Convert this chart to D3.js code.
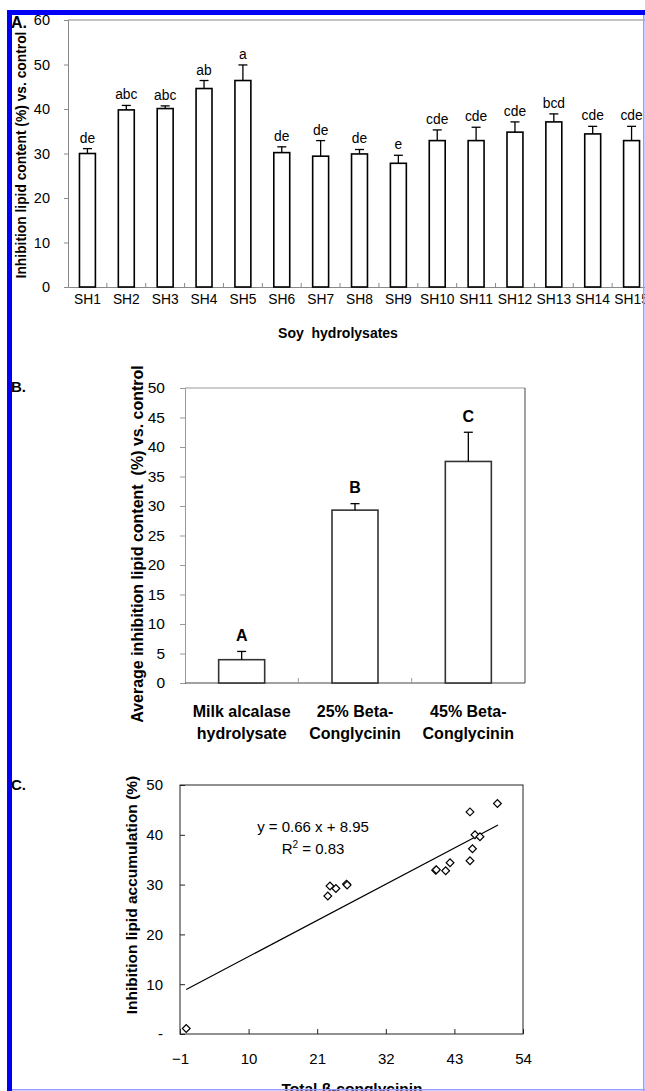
<!DOCTYPE html>
<html>
<head>
<meta charset="utf-8">
<script src="https://cdn.jsdelivr.net/npm/d3@7"></script>
<style>
  html, body { margin: 0; padding: 0; background: #fff; }
  svg { display: block; }
  text { font-family: Arial, 'Liberation Sans', Helvetica, sans-serif; fill: #000; }
</style>
</head>
<body>
<div id="fig"></div>
<script>
// ---- panel A: soy hydrolysates ----
const hydrolysates = ['SH1', 'SH2', 'SH3', 'SH4', 'SH5', 'SH6', 'SH7', 'SH8',
                      'SH9', 'SH10', 'SH11', 'SH12', 'SH13', 'SH14', 'SH15'];
const inhibitionA = [30.0, 39.8, 40.1, 44.6, 46.4, 30.2, 29.4, 29.9, 27.8, 32.9, 32.9, 34.8, 37.1, 34.4, 32.9];
const errorA = [1.1, 1.0, 0.6, 1.8, 3.5, 1.3, 3.5, 1.0, 1.8, 2.4, 3.0, 2.3, 1.8, 1.7, 3.2];
const lettersA = ['de', 'abc', 'abc', 'ab', 'a', 'de', 'de', 'de', 'e', 'cde', 'cde', 'cde', 'bcd', 'cde', 'cde'];
const yTicksA = [0, 10, 20, 30, 40, 50, 60];

// ---- panel B: averages ----
const samplesB = [['Milk alcalase', 'hydrolysate'], ['25% Beta-', 'Conglycinin'], ['45% Beta-', 'Conglycinin']];
const inhibitionB = [3.95, 29.3, 37.55];
const errorB = [1.4, 1.1, 4.95];
const lettersB = ['A', 'B', 'C'];
const yTicksB = [0, 5, 10, 15, 20, 25, 30, 35, 40, 45, 50];

// ---- panel C: correlation ----
const conglycinin = [0, 22.7, 23.05, 24.0, 25.7, 25.8, 40.0, 40.1, 41.6, 42.3, 45.5, 45.9, 46.3, 47.1, 45.5, 49.9];
const accumulation = [1.1, 27.7, 29.7, 29.2, 30.1, 29.9, 32.9, 33.0, 32.8, 34.4, 34.8, 37.2, 40.0, 39.6, 44.6, 46.3];
const fitSlope = 0.66;
const fitIntercept = 8.95;
const fitRange = [0, 50];
const xTicksC = [-1, 10, 21, 32, 43, 54];
const yTicksC = [0, 10, 20, 30, 40, 50];

window.Fig = window.Fig || {};

Fig.init = function() {
    Fig.width = 645;
    Fig.height = 1091;

    Fig.svg = d3.select('#fig').append('svg')
                .attr('width', Fig.width)
                .attr('height', Fig.height);

    Fig.panels.a();
    Fig.panels.b();
    Fig.panels.c();
    Fig.panels.frame();
};

Fig.helpers = {
    errorBars: function(g, x, y, cats, means, errs, cap) {
        cats.forEach(function(c, i) {
            let cx = x(c) + x.bandwidth() / 2;
            let y0 = y(means[i]), y1 = y(means[i] + errs[i]);
            g.append('line').attr('x1', cx).attr('x2', cx).attr('y1', y0).attr('y2', y1)
             .attr('stroke', '#000').attr('stroke-width', 1.3);
            g.append('line').attr('x1', cx - cap).attr('x2', cx + cap).attr('y1', y1).attr('y2', y1)
             .attr('stroke', '#000').attr('stroke-width', 1.3);
        });
    },

    bandTicks: function(g, x, cats, yBase, len, color) {
        // small inward ticks between the categories
        for (let i = 1; i < cats.length; i++) {
            let bx = x(cats[i]) + x.bandwidth() / 2 - x.step() / 2;
            g.append('line').attr('x1', bx).attr('x2', bx)
             .attr('y1', yBase).attr('y2', yBase - len)
             .attr('stroke', color).attr('stroke-width', 1);
        }
    },

    yTitle: function(g, text, cx, cy, size) {
        g.append('text')
         .attr('transform', 'translate(' + cx + ',' + cy + ') rotate(-90)')
         .attr('text-anchor', 'middle')
         .attr('font-weight', 'bold')
         .attr('font-size', size)
         .attr('xml:space', 'preserve')
         .text(text);
    },

    panelLabel: function(g, text, x, y, size) {
        g.append('text').attr('x', x).attr('y', y)
         .attr('font-weight', 'bold').attr('font-size', size).text(text);
    }
};

Fig.panels = {
    a: function() {
        const left = 68, right = 651, top = 20, bottom = 287;
        const g = Fig.svg.append('g');

        const x = d3.scaleBand().domain(hydrolysates).range([left, right])
                    .paddingInner(0.59).paddingOuter(0.295);
        const y = d3.scaleLinear().domain([0, 60]).range([bottom, top]);

        // frame top line
        g.append('line').attr('x1', left).attr('x2', right).attr('y1', top).attr('y2', top)
         .attr('stroke', '#888').attr('stroke-width', 1);

        const yAxis = g.append('g').attr('transform', 'translate(' + left + ',0)')
                       .call(d3.axisLeft(y).tickValues(yTicksA).tickSize(4).tickPadding(14));
        yAxis.selectAll('path, line').attr('stroke', '#888');
        yAxis.selectAll('text').attr('font-size', 14.5).style('font-family', null);

        const xAxis = g.append('g').attr('transform', 'translate(0,' + bottom + ')')
                       .call(d3.axisBottom(x).tickSize(0).tickPadding(7).tickSizeOuter(0));
        xAxis.select('path').attr('stroke', '#888');
        xAxis.selectAll('text').attr('font-size', 13.8).style('font-family', null);

        Fig.helpers.bandTicks(g, x, hydrolysates, bottom, 4, '#888');

        g.selectAll('rect.bar').data(hydrolysates).enter().append('rect')
         .attr('class', 'bar')
         .attr('x', d => x(d)).attr('width', x.bandwidth())
         .attr('y', (d, i) => y(inhibitionA[i]))
         .attr('height', (d, i) => bottom - y(inhibitionA[i]))
         .attr('fill', '#fff').attr('stroke', '#000').attr('stroke-width', 1.6);

        Fig.helpers.errorBars(g, x, y, hydrolysates, inhibitionA, errorA, 4.5);

        g.selectAll('text.letter').data(hydrolysates).enter().append('text')
         .attr('class', 'letter')
         .attr('x', d => x(d) + x.bandwidth() / 2)
         .attr('y', (d, i) => y(inhibitionA[i] + errorA[i]) - 6)
         .attr('text-anchor', 'middle').attr('font-size', 13.8)
         .text((d, i) => lettersA[i]);

        g.append('text').attr('x', 338).attr('y', 338).attr('text-anchor', 'middle')
         .attr('font-weight', 'bold').attr('font-size', 14).attr('xml:space', 'preserve')
         .text('Soy  hydrolysates');

        Fig.helpers.yTitle(g, 'Inhibition lipid content (%) vs. control', 26, 155, 13.8);
        Fig.helpers.panelLabel(g, 'A.', 11, 28, 16);
    },

    b: function() {
        const left = 185, right = 525, top = 388, bottom = 683;
        const g = Fig.svg.append('g');
        const cats = samplesB.map(d => d.join(' '));

        const x = d3.scaleBand().domain(cats).range([left, right])
                    .paddingInner(0.594).paddingOuter(0.297);
        const y = d3.scaleLinear().domain([0, 50]).range([bottom, top]);

        g.append('line').attr('x1', left).attr('x2', right).attr('y1', top).attr('y2', top)
         .attr('stroke', '#999');
        g.append('line').attr('x1', right).attr('x2', right).attr('y1', top).attr('y2', bottom)
         .attr('stroke', '#444');

        const yAxis = g.append('g').attr('transform', 'translate(' + left + ',0)')
                       .call(d3.axisLeft(y).tickValues(yTicksB).tickSize(5).tickPadding(15));
        yAxis.selectAll('path, line').attr('stroke', '#999');
        yAxis.selectAll('text').attr('font-size', 15.5).style('font-family', null);

        g.append('line').attr('x1', left).attr('x2', right).attr('y1', bottom).attr('y2', bottom)
         .attr('stroke', '#444');
        Fig.helpers.bandTicks(g, x, cats, bottom, 5, '#999');

        g.selectAll('rect.bar').data(cats).enter().append('rect')
         .attr('class', 'bar')
         .attr('x', d => x(d)).attr('width', x.bandwidth())
         .attr('y', (d, i) => y(inhibitionB[i]))
         .attr('height', (d, i) => bottom - y(inhibitionB[i]))
         .attr('fill', '#fff').attr('stroke', '#333').attr('stroke-width', 1.6);

        Fig.helpers.errorBars(g, x, y, cats, inhibitionB, errorB, 4.5);

        g.selectAll('text.letter').data(cats).enter().append('text')
         .attr('class', 'letter')
         .attr('x', d => x(d) + x.bandwidth() / 2)
         .attr('y', (d, i) => y(inhibitionB[i] + errorB[i]) - 10.5)
         .attr('text-anchor', 'middle').attr('font-size', 16).attr('font-weight', 'bold')
         .text((d, i) => lettersB[i]);

        cats.forEach(function(c, i) {
            let t = g.append('text').attr('text-anchor', 'middle')
                     .attr('font-weight', 'bold').attr('font-size', 16);
            samplesB[i].forEach(function(line, j) {
                t.append('tspan').attr('x', x(c) + x.bandwidth() / 2)
                 .attr('y', 716.5 + j * 22).text(line);
            });
        });

        Fig.helpers.yTitle(g, 'Average inhibition lipid content  (%) vs. control', 143, 544, 16);
        Fig.helpers.panelLabel(g, 'B.', 11, 392, 15);
    },

    c: function() {
        const left = 180, right = 523, top = 785, bottom = 1034;
        const g = Fig.svg.append('g');

        const x = d3.scaleLinear().domain([-1, 54]).range([left, right]);
        const y = d3.scaleLinear().domain([0, 50]).range([bottom, top]);

        g.append('rect').attr('x', left).attr('y', top)
         .attr('width', right - left).attr('height', bottom - top)
         .attr('fill', 'none').attr('stroke', '#222').attr('stroke-width', 1);

        const yAxis = g.append('g').attr('transform', 'translate(' + left + ',0)')
                       .call(d3.axisLeft(y).tickValues(yTicksC).tickSizeInner(-5).tickSizeOuter(0)
                               .tickPadding(17).tickFormat(d => d === 0 ? '-' : d));
        yAxis.select('path').remove();
        yAxis.selectAll('line').attr('stroke', '#222');
        yAxis.selectAll('text').attr('font-size', 15).style('font-family', null);

        const xAxis = g.append('g').attr('transform', 'translate(0,' + bottom + ')')
                       .call(d3.axisBottom(x).tickValues(xTicksC).tickSizeInner(-5).tickSizeOuter(0)
                               .tickPadding(19));
        xAxis.select('path').remove();
        xAxis.selectAll('line').attr('stroke', '#222');
        xAxis.selectAll('text').attr('font-size', 15).style('font-family', null);

        // regression line
        g.append('line')
         .attr('x1', x(fitRange[0])).attr('y1', y(fitSlope * fitRange[0] + fitIntercept))
         .attr('x2', x(fitRange[1])).attr('y2', y(fitSlope * fitRange[1] + fitIntercept))
         .attr('stroke', '#000').attr('stroke-width', 1.2);

        const diamond = d3.symbol().type(d3.symbolSquare).size(30);
        g.selectAll('path.pt').data(conglycinin).enter().append('path')
         .attr('class', 'pt')
         .attr('d', diamond)
         .attr('transform', (d, i) => 'translate(' + x(d) + ',' + y(accumulation[i]) + ') rotate(45)')
         .attr('fill', '#fff').attr('stroke', '#000').attr('stroke-width', 1.2);

        g.append('text').attr('x', 313).attr('y', 832).attr('text-anchor', 'middle')
         .attr('font-size', 15).text('y = 0.66 x + 8.95');
        let r2 = g.append('text').attr('x', 313).attr('y', 854).attr('text-anchor', 'middle')
                  .attr('font-size', 15);
        r2.append('tspan').text('R');
        r2.append('tspan').attr('font-size', 10).attr('dy', -6).text('2');
        r2.append('tspan').attr('dy', 6).text(' = 0.83');

        g.append('text').attr('x', 352).attr('y', 1094).attr('text-anchor', 'middle')
         .attr('font-weight', 'bold').attr('font-size', 15.5).text('Total β-conglycinin');

        Fig.helpers.yTitle(g, 'Inhibition lipid accumulation (%)', 137, 895, 15.5);
        Fig.helpers.panelLabel(g, 'C.', 11, 790, 15);
    },

    frame: function() {
        // blue page border, drawn last so it covers the edges
        Fig.svg.append('rect').attr('x', 7).attr('y', 10).attr('width', 638).attr('height', 5).attr('fill', '#0000f4');
        Fig.svg.append('rect').attr('x', 7).attr('y', 10).attr('width', 5).attr('height', 1081).attr('fill', '#0000f4');
        Fig.svg.append('rect').attr('x', 643).attr('y', 15).attr('width', 1.5).attr('height', 1076).attr('fill', '#9a9aff');
        Fig.svg.append('rect').attr('x', 12).attr('y', 1089).attr('width', 633).attr('height', 1.5).attr('fill', '#9a9aff');
    }
};

document.addEventListener('DOMContentLoaded', Fig.init);
</script>
</body>
</html>
